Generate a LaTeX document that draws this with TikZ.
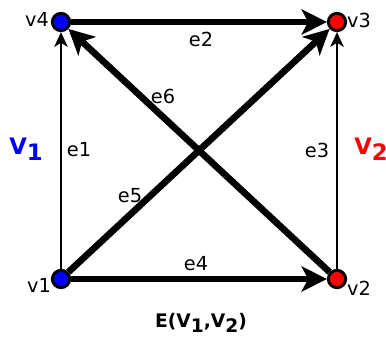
\documentclass[tikz,border=0pt]{standalone}
\usepackage{fontspec}
\setmainfont{DejaVu Sans}
\usetikzlibrary{arrows.meta}
\begin{document}
\begin{tikzpicture}[x=0.75pt,y=-0.75pt,
  vert/.style={circle,draw=black,line width=2.2pt,minimum size=13pt,inner sep=0pt},
  thick edge/.style={line width=5pt,-{Stealth[length=19pt,width=19pt,inset=5pt]}},
  thin edge/.style={line width=1.8pt,-{Stealth[length=11pt,width=10pt,inset=3pt]}},
  lab/.style={font=\fontsize{14.5pt}{16pt}\selectfont,inner sep=0pt},
  setlab/.style={font=\fontsize{17pt}{19pt}\selectfont\bfseries,inner sep=0pt}]
\useasboundingbox (0,0) rectangle (386,341);
\node[vert,fill=blue] (v4) at (61,22) {};
\node[vert,fill=red] (v3) at (337,22) {};
\node[vert,fill=blue] (v1) at (61,279) {};
\node[vert,fill=red] (v2) at (337,279) {};
\draw[thin edge] (v1) -- (v4);
\draw[thin edge] (v2) -- (v3);
\draw[thick edge] (v4) -- (v3);
\draw[thick edge] (v1) -- (v2);
\draw[thick edge] (v1) -- (v3);
\draw[thick edge] (v2) -- (v4);
\node[lab] (l4) at (37,19) {v4};
\node[lab] (l3) at (359,20) {v3};
\node[lab] (l1) at (39,285) {v1};
\node[lab] (l2) at (359,288) {v2};
\node[lab] (e1) at (79,150) {e1};
\node[lab] (e2) at (201,39) {e2};
\node[lab] (e3) at (317,150) {e3};
\node[lab] (e4) at (196,264) {e4};
\node[lab] (e5) at (130,196) {e5};
\node[lab] (e6) at (163,96) {e6};
\node[setlab,text=blue] (V1) at (26,149) {V\raisebox{-0.45ex}{1}};
\node[setlab,text=red] (V2) at (371,149) {V\raisebox{-0.45ex}{2}};
\node[font=\fontsize{14pt}{16pt}\selectfont\bfseries,inner sep=0pt] (E) at (201,323) {E(V\raisebox{-0.45ex}{1},V\raisebox{-0.45ex}{2})};
\end{tikzpicture}
\end{document}
